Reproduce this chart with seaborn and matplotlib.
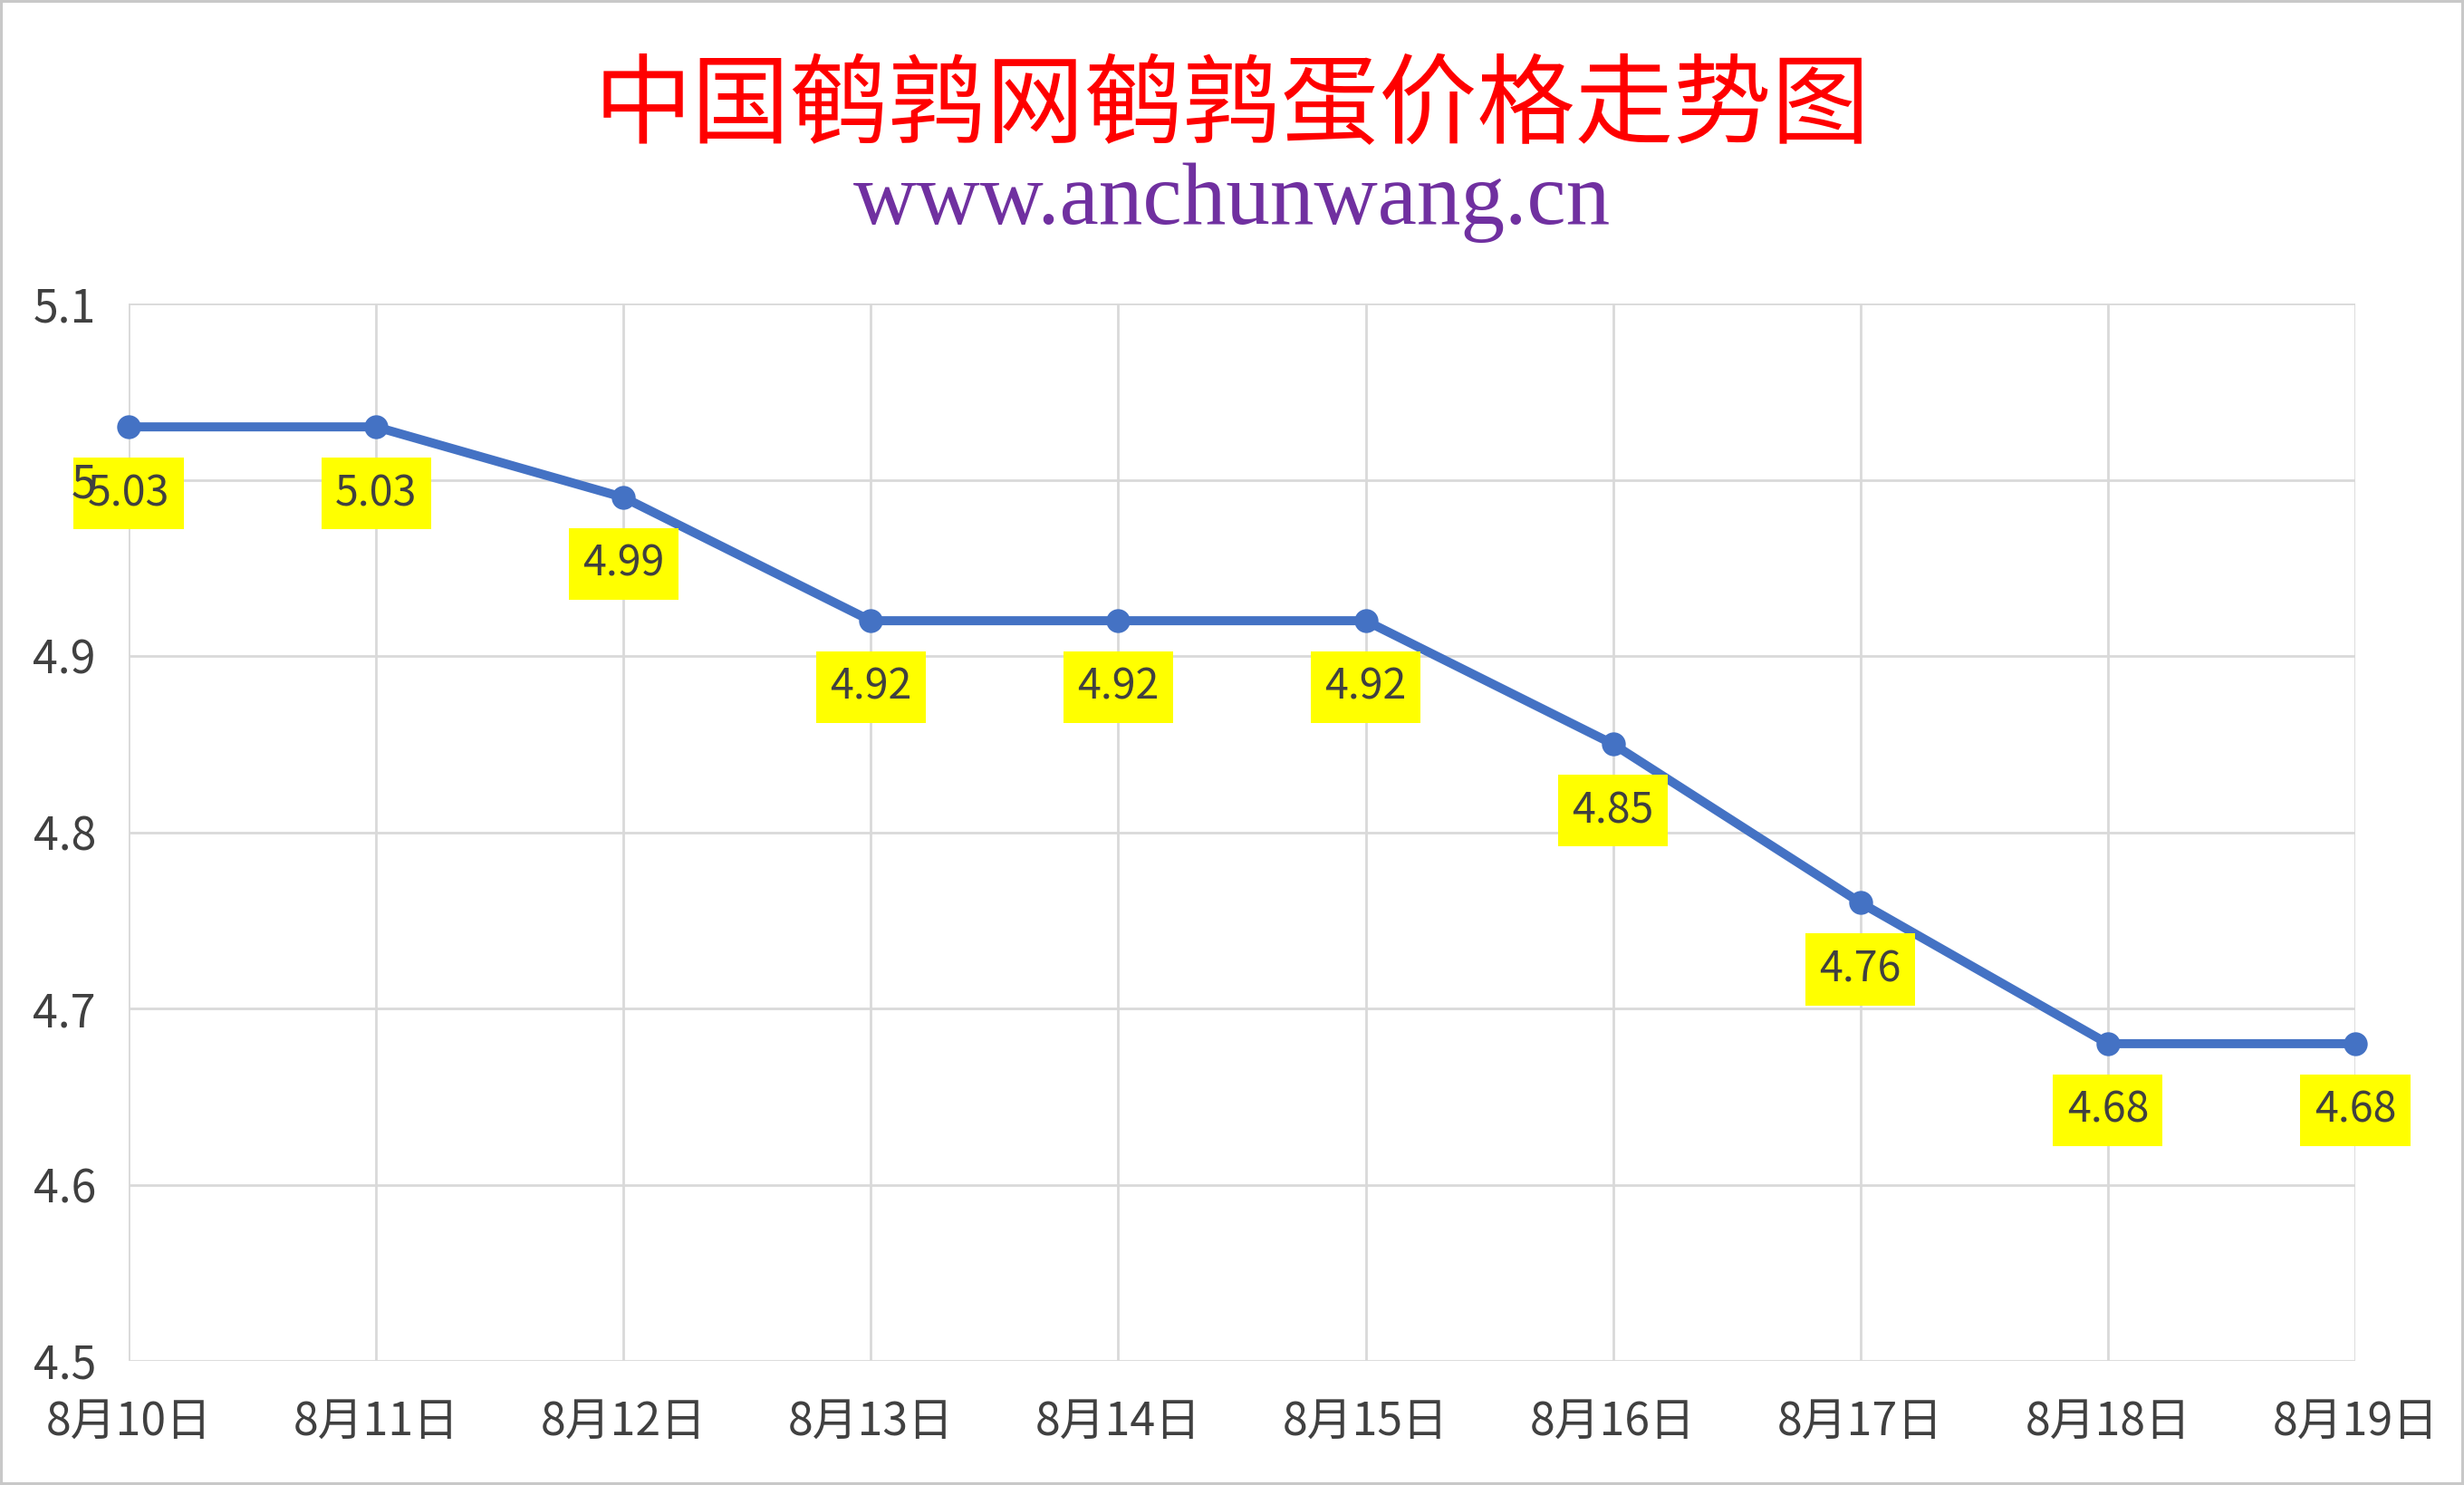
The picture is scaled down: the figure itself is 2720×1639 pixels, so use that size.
import matplotlib
matplotlib.use("Agg")
import matplotlib.pyplot as plt
import seaborn as sns
import pandas as pd
import numpy as np
from matplotlib.patches import Rectangle

# ---- data ----
dates = ["8月10日", "8月11日", "8月12日", "8月13日", "8月14日",
         "8月15日", "8月16日", "8月17日", "8月18日", "8月19日"]
prices = [5.03, 5.03, 4.99, 4.92, 4.92, 4.92, 4.85, 4.76, 4.68, 4.68]
yticks = [4.5, 4.6, 4.7, 4.8, 4.9, 5.0, 5.1]
ytick_labels = ["4.5", "4.6", "4.7", "4.8", "4.9", "5", "5.1"]
title = "中国鹌鹑网鹌鹑蛋价格走势图"
subtitle = "www.anchunwang.cn"

sns.set_theme(style="white")
plt.rcParams['font.family'] = ['Noto Sans CJK SC', 'DejaVu Sans']

DPI = 100
fig = plt.figure(figsize=(27.2, 16.39), dpi=DPI)
ax = fig.add_axes([142/2720, 1 - 1502/1639, (2600 - 142)/2720, (1502 - 335)/1639])

df = pd.DataFrame({"pos": np.arange(len(dates)), "price": prices})

LINE = "#4472C4"
GRID = "#D9D9D9"
TXT = "#404040"

sns.lineplot(data=df, x="pos", y="price", ax=ax, color=LINE, linewidth=7.2,
             marker="o", markersize=19, markeredgewidth=0, zorder=2, clip_on=False)

ax.set_xlim(0, len(dates) - 1)
ax.set_ylim(yticks[0], yticks[-1])
ax.set_xticks(df["pos"])
ax.set_xticklabels(dates)
ax.set_yticks(yticks)
ax.set_yticklabels(ytick_labels)
ax.set_xlabel("")
ax.set_ylabel("")

for s in ax.spines.values():
    s.set_visible(False)

# vertical gridlines via x axis
ax.grid(False)
ax.xaxis.grid(True, color=GRID, linewidth=2.0)
# horizontal gridlines drawn beneath everything
for t in yticks:
    ax.axhline(t, color=GRID, linewidth=2.0, zorder=0.5)

ax.tick_params(axis="both", length=0, labelsize=36, colors=TXT)
ax.tick_params(axis="y", pad=26)
ax.tick_params(axis="x", pad=30)
ax.yaxis.set_zorder(10)

# data labels
for x, y in zip(df["pos"], df["price"]):
    ax.annotate(f"{y:.2f}", xy=(x, y), xytext=(0, -53), textcoords="offset points",
                ha="center", va="center", fontsize=33.5, color=TXT, zorder=5,
                annotation_clip=False,
                bbox=dict(boxstyle="square,pad=0.33", fc="#FFFF00", ec="none"))

# titles
fig.text(0.5, 1 - 120/1639, title, ha="center", va="center", fontsize=78,
         color="#FF0000", family=['Noto Sans CJK SC', 'DejaVu Sans'])
fig.text(0.5, 1 - 247/1639, subtitle, ha="center", va="baseline", fontsize=70,
         color="#7030A0", family=['Liberation Serif', 'DejaVu Serif'])

# chart border
fig.patches.append(Rectangle((0, 0), 1, 1, transform=fig.transFigure, fill=False,
                             edgecolor="#C8C8C8", linewidth=4.5, zorder=0))

fig.savefig("out.png", dpi=DPI, facecolor="white")
